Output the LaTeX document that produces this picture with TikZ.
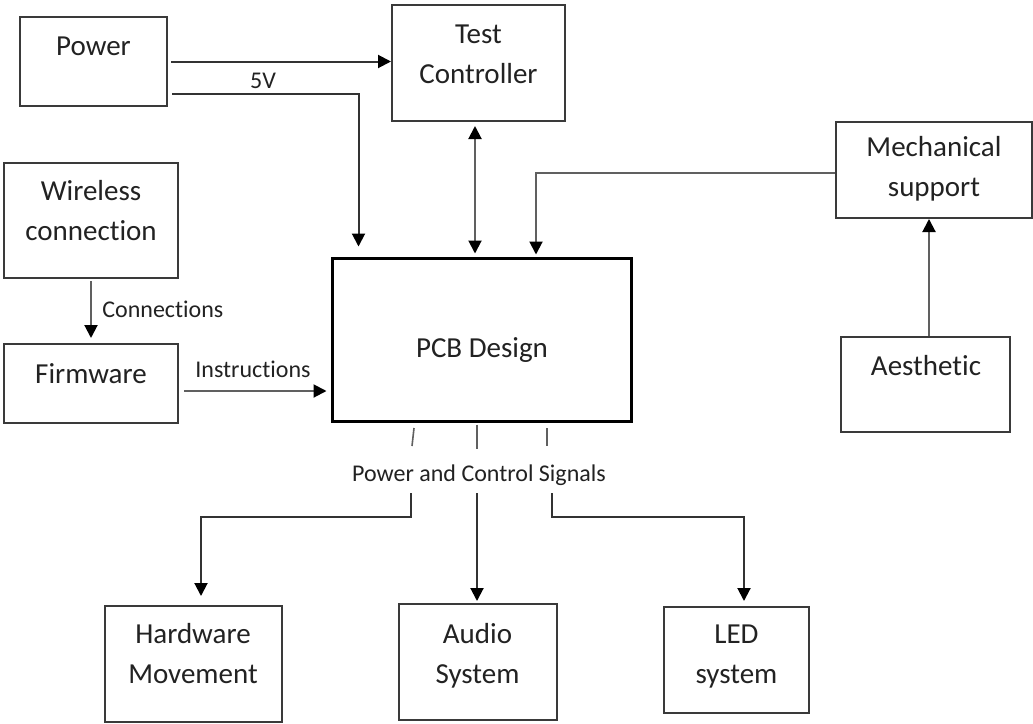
\documentclass[tikz,border=0pt]{standalone}
\usepackage{fontspec}
\setmainfont{Carlito}[Ligatures=NoCommon]
\usetikzlibrary{arrows.meta,calc}
\definecolor{ink}{HTML}{222222}
\definecolor{edge}{HTML}{3A3A3A}
\definecolor{wire}{HTML}{606060}
\definecolor{wiredark}{HTML}{333333}

\begin{document}
\begin{tikzpicture}[x=0.5pt,y=-0.5pt,
  box/.style={draw=edge, line width=1pt, inner sep=0pt},
  sz/.style 2 args={minimum width=#1*0.5pt, minimum height=#2*0.5pt},
  lbl/.style={text=ink, font=\fontsize{14.5}{19.75}\selectfont, anchor=base, inner sep=0pt, align=center},
  small/.style={text=ink, font=\fontsize{12}{14}\selectfont, anchor=base, inner sep=0pt},
  wire/.style={draw=wire, line width=1pt},
  tip/.style={-{Triangle[length=6.5pt,width=6.5pt,color=black]}},
  arr/.style={wire, tip},
  arrdark/.style={wire, draw=wiredark, tip},
  biarr/.style={wire, {Triangle[length=6.5pt,width=6.5pt,color=black]}-{Triangle[length=6.5pt,width=6.5pt,color=black]}},
  stub/.style={draw=wire, line width=0.8pt}]

\path[use as bounding box, fill=white] (0,0) rectangle (1033,723);

% blocks
\node[box, sz={147}{89}]  (power) at (93.5,61.5) {};
\node[box, sz={173}{116}] (test)  at (478.5,63) {};
\node[box, sz={174}{115}] (wl)    at (91,220.5) {};
\node[box, sz={174}{79}]  (fw)    at (91,383.5) {};
\node[box, sz={299}{163}, draw=black, line width=1.5pt] (pcb) at (481.5,339.5) {};
\node[box, sz={196}{96}]  (mech)  at (934,170) {};
\node[box, sz={169}{95}]  (aes)   at (925.5,384.5) {};
\node[box, sz={177}{116}] (hw)    at (193.5,664) {};
\node[box, sz={158}{116}] (aud)   at (478,662) {};
\node[box, sz={145}{106}] (led)   at (736.5,660) {};

% block texts (base anchor = baseline of the last line)
\node[lbl] (tpower) at (93.5,55) {Power};
\node[lbl] (ttest)  at (478.5,83) {Test\\Controller};
\node[lbl] (twl)    at (91,240) {Wireless\\connection};
\node[lbl] (tfw)    at (91,383) {Firmware};
\node[lbl] (tpcb)   at (482,357) {PCB Design};
\node[lbl] (tmech)  at (934,196) {Mechanical\\support};
\node[lbl] (taes)   at (926,375) {Aesthetic};
\node[lbl] (thw)    at (193,683) {Hardware\\Movement};
\node[lbl] (taud)   at (477.5,683) {Audio\\System};
\node[lbl] (tled)   at (736.5,683) {LED\\system};

% connector labels
\node[small] (l5v)   at (263,88) {5V};
\node[small, anchor=base west] (lcon) at (102,317) {Connections};
\node[small] (lins)  at (253,377) {Instructions};
\node[small] (lsig)  at (479,481) {Power and Control Signals};

% helper points
\coordinate (v5) at (172,94);
\coordinate (bx) at (475,0);
\coordinate (mx) at (536,0);
\coordinate (ax) at (929,0);
\coordinate (iy) at (0,391);
\coordinate (u1) at (414,428);
\coordinate (u3) at (547,428);
\coordinate (d1) at (411,493);
\coordinate (h1) at (201,517);
\coordinate (d2) at (477,493);
\coordinate (d3) at (552,493);
\coordinate (l3) at (744,517);

% upper connectors
\draw[arrdark, shorten <=1.5pt] (power.east) -- (power.east -| test.west);
\draw[arrdark] (v5) -| ($(pcb.north west)+(28,-10)$);
\draw[biarr, shorten <=2pt, shorten >=1.5pt] (test.south -| bx) -- (pcb.north -| bx);
\draw[arr, shorten >=1pt] ([yshift=-1.5pt]mech.west) -| (pcb.north -| mx);
\draw[arr] (aes.north -| ax) -- (mech.south -| ax);
\draw[arr, shorten <=1pt, shorten >=2.5pt] (wl.south) -- (fw.north);
\draw[arr, shorten <=2.5pt, shorten >=2pt] (fw.east |- iy) -- (pcb.west |- iy);

% signal stubs below the PCB block
\draw[stub] (u1) -- ++(-2,18);
\draw[stub] ([yshift=-1pt]pcb.south -| d2) -- ++(0,24);
\draw[stub] (u3) -- ++(0,18);

% lower connectors
\draw[arrdark, shorten >=4.5pt] (d1) |- (h1) -- (h1 |- hw.north);
\draw[arrdark, shorten >=1pt] (d2) -- (d2 |- aud.north);
\draw[arrdark, shorten >=2.5pt] (d3) |- (l3) -- (l3 |- led.north);
\end{tikzpicture}
\end{document}
